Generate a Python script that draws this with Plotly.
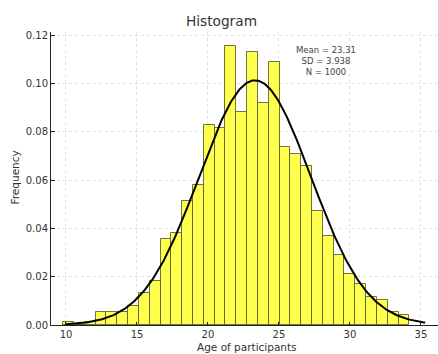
import numpy as np
import plotly.graph_objects as go

# ---- data ----
BIN_START = 9.80
BIN_WIDTH = 0.762
FREQUENCY = [0.0013, 0.0, 0.0013, 0.0052, 0.0052, 0.0052, 0.0079, 0.0131,
             0.0184, 0.0355, 0.0382, 0.0512, 0.0578, 0.0827, 0.0815, 0.1155,
             0.0880, 0.1130, 0.0920, 0.1090, 0.0736, 0.0710, 0.0657, 0.0473,
             0.0368, 0.0289, 0.0210, 0.0171, 0.0118, 0.0105, 0.0053, 0.0040]
MEAN = 23.31
SD = 3.938
N = 1000
CURVE_FROM, CURVE_TO = 10.0, 35.3
X_TICKS = [10, 15, 20, 25, 30, 35]

centers = [BIN_START + BIN_WIDTH * (i + 0.5) for i in range(len(FREQUENCY))]
xc = np.linspace(CURVE_FROM, CURVE_TO, 300)
yc = np.exp(-0.5 * ((xc - MEAN) / SD) ** 2) / (SD * np.sqrt(2 * np.pi))

W, H = 438, 354
ML, MR, MT, MB = 51, 0, 32, 29
PW, PH = W - ML - MR, H - MT - MB

def px(xpix):
    return (xpix - ML) / PW

def py(ypix):
    return (H - MB - ypix) / PH

FONT = "DejaVu Sans"
TXT = "#333333"

fig = go.Figure()
fig.add_trace(go.Bar(
    x=centers, y=FREQUENCY, width=BIN_WIDTH,
    marker=dict(color="#ffff4d", line=dict(color="rgba(80,80,30,0.8)", width=1)),
    showlegend=False, hoverinfo="x+y"))
fig.add_trace(go.Scatter(
    x=xc, y=yc, mode="lines", line=dict(color="black", width=2),
    showlegend=False))

axis_common = dict(
    showline=True, linecolor="#222222", linewidth=1,
    ticks="inside", ticklen=3.5, tickwidth=1, tickcolor="#222222",
    showgrid=True, gridcolor="#e2e2e2", griddash="dot", gridwidth=0.8,
    zeroline=False, mirror=False,
    tickfont=dict(family=FONT, size=10, color=TXT),
)

fig.update_layout(
    width=W, height=H,
    margin=dict(l=ML, r=MR, t=MT, b=MB),
    paper_bgcolor="white", plot_bgcolor="white",
    bargap=0,
    title=dict(text="Histogram", x=px(246.7), xanchor="center",
               y=1 - 21 / H, yanchor="middle", yref="container",
               font=dict(family=FONT, size=13.7, color=TXT)),
    xaxis=dict(range=[8.944, 36.2], tickvals=X_TICKS, **axis_common),
    yaxis=dict(range=[0, 0.1213], dtick=0.02, tickformat=".2f", **axis_common),
    annotations=[
        dict(text="Age of participants", xref="paper", yref="paper",
             x=px(246.7), y=py(347), xanchor="center", yanchor="middle",
             showarrow=False, font=dict(family=FONT, size=10.5, color=TXT)),
        dict(text="Frequency", xref="paper", yref="paper",
             x=px(14.5), y=py(178), xanchor="center", yanchor="middle",
             textangle=-90, showarrow=False,
             font=dict(family=FONT, size=10.5, color=TXT)),
        dict(text=f"Mean = {MEAN}<br>SD = {SD}<br>N = {N}",
             xref="paper", yref="paper", x=px(325.5), y=py(60.5),
             xanchor="center", yanchor="middle", align="center",
             showarrow=False, font=dict(family=FONT, size=8.5, color="#444444")),
    ],
)

fig.write_html("out.html",
               config={"displayModeBar": False},
               post_script="document.body.style.margin='0';document.body.style.overflow='hidden';")
